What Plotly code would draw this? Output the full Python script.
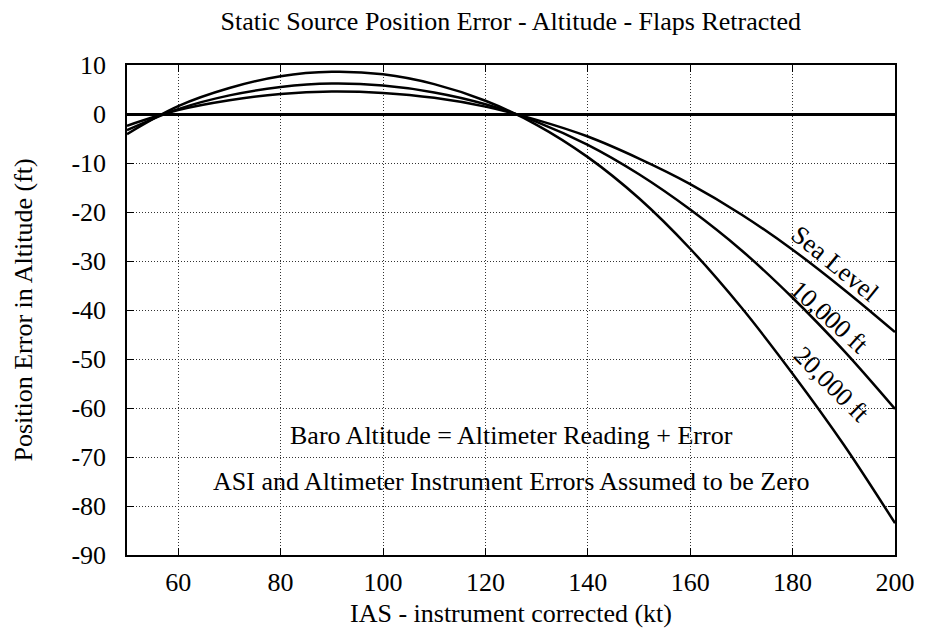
import plotly.graph_objects as go

ias = [50, 60, 70, 80, 90, 100, 110, 120, 130, 140, 150, 160, 170, 180, 190, 200]
err_sea_level = [-2.4, 0.8, 2.8, 4.1, 4.6, 4.3, 3.3, 1.5, -1.2, -4.6, -9.1, -14.3, -20.5, -27.7, -35.8, -44.5]
err_10000 = [-3.3, 1.0, 3.8, 5.5, 6.2, 5.8, 4.4, 2.0, -1.6, -6.3, -12.3, -19.5, -27.8, -37.5, -48.3, -60.2]
err_20000 = [-4.1, 1.6, 5.3, 7.7, 8.6, 8.1, 6.1, 2.7, -2.2, -8.8, -17.2, -27.5, -39.5, -53.0, -67.5, -83.5]

series = [("Sea Level", err_sea_level), ("10,000 ft", err_10000), ("20,000 ft", err_20000)]
curve_labels = [("Sea Level", 188.2, -30.6, 39), ("10,000 ft", 187.3, -41.5, 42), ("20,000 ft", 187.6, -55.3, 45)]

x_ticks = [60, 80, 100, 120, 140, 160, 180, 200]
x_tick_text = ["60", "80", "100", "120", "140", "160", "180", "200"]
y_ticks = [10, 0, -10, -20, -30, -40, -50, -60, -70, -80, -90]
y_tick_text = ["10", "0", "-10", "-20", "-30", "-40", "-50", "-60", "-70", "-80", "-90"]

FONT = "Liberation Serif, Times New Roman, Times, serif"
FS = 26

fig = go.Figure()
for name, vals in series:
    fig.add_trace(go.Scatter(x=ias, y=vals, mode="lines", name=name,
                             line=dict(color="black", width=2.5, shape="spline", smoothing=1.0),
                             showlegend=False, hoverinfo="skip"))

for text, xv, yv, ang in curve_labels:
    fig.add_annotation(x=xv, y=yv, xref="x", yref="y", text=text, showarrow=False,
                       textangle=ang, font=dict(family=FONT, size=FS, color="black"))

fig.add_annotation(x=125, y=-65.7, xref="x", yref="y", showarrow=False,
                   text="Baro Altitude = Altimeter Reading + Error",
                   font=dict(family=FONT, size=FS, color="black"))
fig.add_annotation(x=125, y=-74.9, xref="x", yref="y", showarrow=False,
                   text="ASI and Altimeter Instrument Errors Assumed to be Zero",
                   font=dict(family=FONT, size=FS, color="black"))

# axis titles
fig.add_annotation(x=-0.136, y=0.5, xref="paper", yref="paper", showarrow=False,
                   text="Position Error in Altitude (ft)", textangle=-90,
                   xanchor="center", yanchor="middle",
                   font=dict(family=FONT, size=FS, color="black"))
fig.add_annotation(x=0.5, y=-0.12, xref="paper", yref="paper", showarrow=False,
                   text="IAS - instrument corrected (kt)",
                   xanchor="center", yanchor="middle",
                   font=dict(family=FONT, size=FS, color="black"))

fig.update_layout(
    width=927, height=642,
    margin=dict(l=127, r=28, t=65, b=87),
    paper_bgcolor="white", plot_bgcolor="white",
    font=dict(family=FONT, size=FS, color="black"),
    title=dict(text="Static Source Position Error - Altitude - Flaps Retracted",
               x=0.551, xanchor="center", y=0.968, yanchor="middle",
               font=dict(family=FONT, size=FS, color="black")),
)
fig.update_xaxes(
    range=[50, 200], tickvals=x_ticks, ticktext=x_tick_text, ticks="inside", ticklen=7, tickcolor="black",
    showline=True, linecolor="black", linewidth=1.5, mirror="ticks",
    showgrid=True, gridcolor="#333333", gridwidth=1, griddash="1px,2px", zeroline=False,
    ticklabelstandoff=3,
)
fig.update_yaxes(
    range=[-90, 10], tickvals=y_ticks, ticktext=y_tick_text, ticks="inside", ticklen=7, tickcolor="black",
    showline=True, linecolor="black", linewidth=1.5, mirror="ticks",
    showgrid=True, gridcolor="#333333", gridwidth=1, griddash="1px,2px",
    zeroline=True, zerolinecolor="black", zerolinewidth=2.5,
    ticklabelstandoff=14,
)

fig.write_html("out.html")
